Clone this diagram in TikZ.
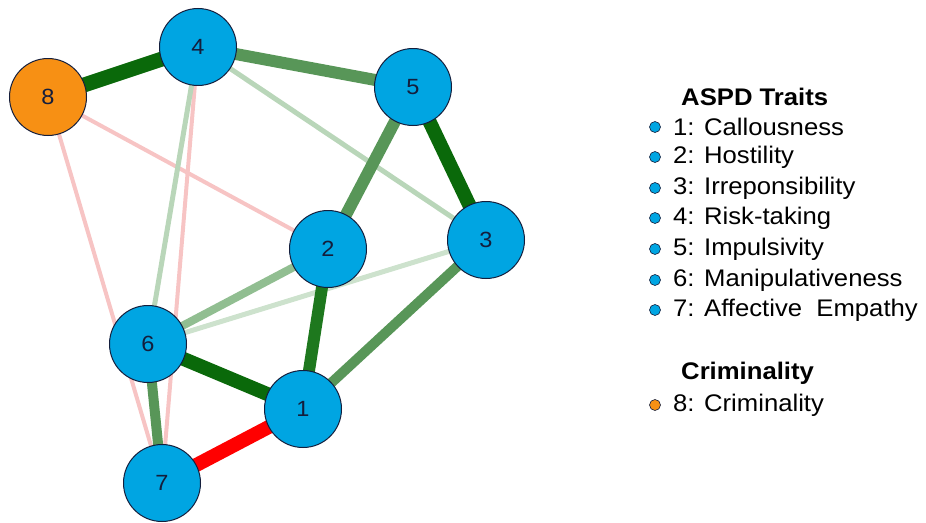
\documentclass[tikz,border=0pt]{standalone}
\usepackage{fontspec}
\setmainfont{Liberation Sans}
\newfontfamily\legfont[FakeStretch=1.07]{Liberation Sans}
\usetikzlibrary{backgrounds}
\definecolor{nodeblue}{RGB}{0,165,226}
\definecolor{nodeorange}{RGB}{247,144,20}
\definecolor{nodeedge}{RGB}{20,30,60}
\definecolor{gdark}{RGB}{10,105,10}
\definecolor{gdark2}{RGB}{30,120,30}
\definecolor{gmed}{RGB}{88,150,88}
\definecolor{gmedlight}{RGB}{145,190,145}
\definecolor{glight}{RGB}{185,214,185}
\definecolor{gvlight}{RGB}{205,226,205}
\definecolor{pinkl}{RGB}{247,196,196}
\definecolor{redd}{RGB}{255,0,0}
\tikzset{
  x=1pt, y=-1pt,
  trait/.style={circle, draw=nodeedge, line width=1pt, fill=nodeblue, minimum size=77pt, inner sep=0pt, font=\legfont\fontsize{22}{24}\selectfont, text=nodeedge},
  crim/.style={trait, fill=nodeorange},
  legtitle/.style={anchor=west, inner sep=0pt, font=\legfont\fontsize{24}{26}\selectfont\bfseries},
  legitem/.style={anchor=west, inner sep=0pt, font=\legfont\fontsize{24}{26}\selectfont},
  bul/.style={circle, draw=nodeedge, line width=0.6pt, fill=nodeblue, minimum size=11pt, inner sep=0pt}
}
\begin{document}
\begin{tikzpicture}
\useasboundingbox (0,0) rectangle (926,522);
\node[trait] (n4) at (198,47) {4};
\node[crim]  (n8) at (48,97) {8};
\node[trait] (n5) at (413,87) {5};
\node[trait] (n3) at (486,240) {3};
\node[trait] (n2) at (328,249) {2};
\node[trait] (n6) at (148,344) {6};
\node[trait] (n1) at (303,409) {1};
\node[trait] (n7) at (162,483) {7};
\begin{scope}[on background layer]
\draw[pinkl, line width=4pt] (n8.center) -- (n7.center);
\draw[pinkl, line width=4pt] (n4.center) -- (n7.center);
\draw[pinkl, line width=4pt] (n8.center) -- (n2.center);
\draw[glight, line width=5pt] (n4.center) -- (n6.center);
\draw[glight, line width=5pt] (n4.center) -- (n3.center);
\draw[gvlight, line width=5pt] (n3.center) -- (n6.center);
\draw[gmedlight, line width=8pt] (n2.center) -- (n6.center);
\draw[gmed, line width=10pt] (n6.center) -- (n7.center);
\draw[gmed, line width=10pt] (n3.center) -- (n1.center);
\draw[gmed, line width=12pt] (n4.center) -- (n5.center);
\draw[gmed, line width=12pt] (n5.center) -- (n2.center);
\draw[gdark2, line width=12pt] (n2.center) -- (n1.center);
\draw[gdark, line width=15pt] (n8.center) -- (n4.center);
\draw[gdark, line width=14pt] (n5.center) -- (n3.center);
\draw[gdark, line width=14pt] (n6.center) -- (n1.center);
\draw[redd, line width=14pt] (n7.center) -- (n1.center);
\end{scope}
\node[legtitle] (lt1) at (681,97) {ASPD Traits};
\node[bul] (b1) at (655,127) {};
\node[legitem] (l1) at (673,127) {1: Callousness};
\node[bul] (b2) at (655,157) {};
\node[legitem] (l2) at (673,157) {2: Hostility};
\node[bul] (b3) at (655,188) {};
\node[legitem] (l3) at (673,188) {3: Irreponsibility};
\node[bul] (b4) at (655,218) {};
\node[legitem] (l4) at (673,218) {4: Risk-taking};
\node[bul] (b5) at (655,249) {};
\node[legitem] (l5) at (673,249) {5: Impulsivity};
\node[bul] (b6) at (655,280) {};
\node[legitem] (l6) at (673,280) {6: Manipulativeness};
\node[bul] (b7) at (655,310) {};
\node[legitem] (l7) at (673,310) {7: Affective\ \ Empathy};
\node[legtitle] (lt2) at (681,373) {Criminality};
\node[bul, fill=nodeorange] (b8) at (655,405) {};
\node[legitem] (l8) at (673,405) {8: Criminality};
\end{tikzpicture}
\end{document}
